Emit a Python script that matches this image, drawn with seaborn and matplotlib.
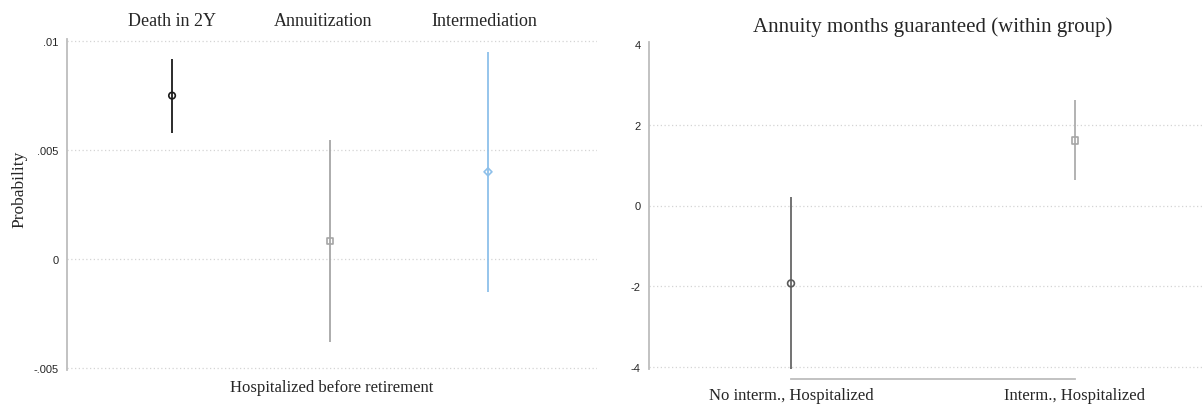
import matplotlib
matplotlib.use("Agg")
import matplotlib.pyplot as plt
import seaborn as sns

# Left panel: effect of being hospitalized before retirement
outcomes = ["Death in 2Y", "Annuitization", "Intermediation"]
outcome_est = [0.0075, 0.00083, 0.0040]
outcome_lo = [0.00578, -0.00381, -0.00151]
outcome_hi = [0.00917, 0.00546, 0.0095]

# Right panel: annuity months guaranteed (within group)
groups = ["No interm., Hospitalized", "Interm., Hospitalized"]
group_est = [-1.93, 1.62]
group_lo = [-4.05, 0.62]
group_hi = [0.20, 2.62]

left_ticks = [-0.005, 0, 0.005, 0.01]
left_ticklabels = ["-.005", "0", ".005", ".01"]
right_ticks = [-4, -2, 0, 2, 4]

sns.set_style("white")
plt.rcParams["font.family"] = ["Liberation Serif", "DejaVu Serif"]

SPINE = "#bdbdbd"
GRID = "#d4d4d4"
left_colors = ["#1a1a1a", "#a6a6a6", "#8ec0ea"]
left_markers = ["o", "s", "D"]
right_colors = ["#5a5a5a", "#a6a6a6"]
right_markers = ["o", "s"]

W, H = 1203, 406
fig = plt.figure(figsize=(W / 100, H / 100), dpi=100)
ax1 = fig.add_axes([67 / W, 1 - 371 / H, 530 / W, 331 / H])
ax2 = fig.add_axes([649 / W, 1 - 370 / H, 568 / W, 327 / H])


def style_y(ax, ticks, labels):
    ax.set_yticks(ticks)
    ax.set_yticklabels(labels, family="Liberation Sans", fontsize=8)
    for s in ["top", "right"]:
        ax.spines[s].set_visible(False)
    ax.spines["left"].set_color(SPINE)
    ax.spines["left"].set_linewidth(1.3)
    ax.tick_params(axis="y", direction="out", length=4, width=1, color=SPINE, pad=2)


# ---- left panel ----
pos1 = list(range(1, len(outcomes) + 1))
for p, est, lo, hi, c, m in zip(pos1, outcome_est, outcome_lo, outcome_hi,
                                left_colors, left_markers):
    ax1.vlines(p, lo, hi, color=c, lw=1.3, zorder=2)
    sns.scatterplot(x=[p], y=[est], marker=m, s=22 if m != "D" else 16,
                    color=c, facecolor="none", edgecolor=c, linewidth=1.2,
                    ax=ax1, zorder=3, legend=False)

ax1.set_xlim(0.335, 3.69)
ax1.set_ylim(-0.0051, 0.0101)
style_y(ax1, left_ticks, left_ticklabels)
for y in left_ticks:
    ax1.axhline(y, color=GRID, lw=0.9, ls=(0, (1, 2)), zorder=1)
ax1.spines["bottom"].set_visible(False)
ax1.spines["bottom"].set_position(("outward", 5))
ax1.set_xticks([2])
ax1.set_xticklabels([""])
ax1.tick_params(axis="x", direction="out", length=4, width=1.2, color=SPINE)
ax1.set_xlabel("Hospitalized before retirement", fontsize=12)
ax1.xaxis.set_label_coords(0.5, -0.028)
ax1.set_ylabel("Probability", fontsize=12.5)
ax1.yaxis.set_label_coords(-0.075, 0.55)

title_x = [172, 323, 484]
for name, tx in zip(outcomes, title_x):
    fig.text(tx / W, 1 - 21 / H, name, ha="center", va="center", fontsize=13)

# ---- right panel ----
pos2 = list(range(1, len(groups) + 1))
for p, est, lo, hi, c, m in zip(pos2, group_est, group_lo, group_hi,
                                right_colors, right_markers):
    ax2.vlines(p, lo, hi, color=c, lw=1.2, zorder=2)
    sns.scatterplot(x=[p], y=[est], marker=m, s=24, color=c, facecolor="none",
                    edgecolor=c, linewidth=1.2, ax=ax2, zorder=3, legend=False)

ax2.set_xlim(0.5, 2.5)
ax2.set_ylim(-4.05, 4.05)
style_y(ax2, right_ticks, [str(t) for t in right_ticks])
for y in right_ticks[:-1]:
    ax2.axhline(y, color=GRID, lw=0.9, ls=(0, (1, 2)), zorder=1)
ax2.spines["bottom"].set_position(("outward", 7))
ax2.spines["bottom"].set_bounds(1, 2)
ax2.spines["bottom"].set_color(SPINE)
ax2.spines["bottom"].set_linewidth(1.3)
ax2.set_xticks(pos2)
ax2.set_xticklabels(groups, fontsize=12)
ax2.tick_params(axis="x", direction="out", length=4, width=1.2, color=SPINE, pad=2)
ax2.set_title("Annuity months guaranteed (within group)", fontsize=15, pad=8)

fig.savefig("out.png", dpi=100)
